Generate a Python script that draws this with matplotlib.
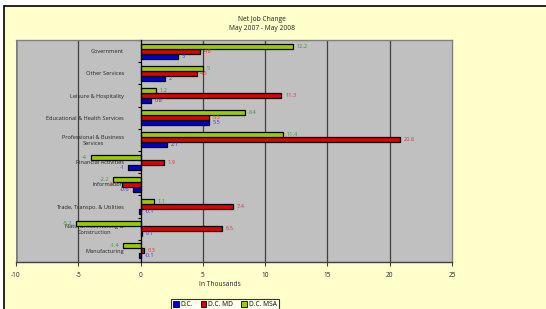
import matplotlib
matplotlib.use("Agg")
import matplotlib.pyplot as plt
from matplotlib.patches import Rectangle, Patch
import numpy as np

categories = ["Government", "Other Services", "Leisure & Hospitality",
              "Educational & Health Services", "Professional & Business\nServices",
              "Financial Activities", "Information", "Trade, Transpo. & Utilities",
              "Natural Res., Mining &\nConstruction", "Manufacturing"]
dc = [3, 2, 0.8, 5.5, 2.1, -1, -0.6, -0.1, 0.1, -0.1]
dc_md = [4.8, 4.5, 11.3, 5.5, 20.8, 1.9, -1.5, 7.4, 6.5, 0.3]
dc_msa = [12.2, 5, 1.2, 8.4, 11.4, -4, -2.2, 1.1, -5.2, -1.4]
series_names = ["D.C.", "D.C. MD", "D.C. MSA"]
xticks = [-10, -5, 0, 5, 10, 15, 20, 25]

plt.rcParams['font.family'] = ['Open Sans', 'DejaVu Sans']

W, H = 546, 309
fig = plt.figure(figsize=(W/100, H/100), dpi=100)
fig.patch.set_facecolor('white')
bg = Rectangle((4/W, -0.1), 1.2, (H-6)/H + 0.1, transform=fig.transFigure,
               facecolor='#FFFFCC', edgecolor='black', lw=1.2, zorder=-5)
fig.patches.append(bg)

ax = fig.add_axes([16/W, 1-262/H, (452-16)/W, (262-40)/H])
ax.set_zorder(1)
ax.set_facecolor('#C0C0C0')

n = len(categories)
y = np.arange(n)
bh = 0.225
bar_colors = ['#0000CC', '#DD0000', '#99CC00']
lab_colors = ['#3333DD', '#E03333', '#339933']
data = [dc, dc_md, dc_msa]
offsets = [bh, 0, -bh]
for vals, off, c, lc in zip(data, offsets, bar_colors, lab_colors):
    ax.barh(y + off, vals, height=bh, color=c, edgecolor='black', lw=0.9, zorder=3)
    for yi, v in zip(y, vals):
        if v >= 0 or v > -0.5:
            ax.text(max(v, 0) + 0.3, yi + off, f"{v:g}", color=lc, fontsize=4.1,
                    va='center', ha='left', zorder=5)
        else:
            ax.text(v - 0.3, yi + off, f"{v:g}", color=lc, fontsize=4.1,
                    va='center', ha='right', zorder=5)

ax.set_xlim(-10, 25)
ax.set_ylim(n - 0.5, -0.5)
ax.set_xticks(xticks)
ax.set_xticklabels([str(t) for t in xticks], fontsize=4.7, color='#222222')
for xv in xticks[1:-1]:
    if xv != 0:
        ax.axvline(xv, color='#404040', lw=0.9, zorder=1)

ax.spines['left'].set_position(('data', 0))
ax.spines['left'].set_color('black')
ax.spines['left'].set_linewidth(0.9)
ax.spines['left'].set_zorder(4)
for s in ['top', 'right']:
    ax.spines[s].set_color('#808080')
    ax.spines[s].set_linewidth(1.0)
ax.spines['bottom'].set_color('#404040')
ax.spines['bottom'].set_linewidth(1.0)
ax.axvline(-10, color='#808080', lw=2.0, zorder=2)

ax.set_yticks(y)
ax.set_yticklabels(categories, fontsize=4.1, multialignment='center', color='#222222')
ax.tick_params(axis='y', length=0, pad=12)
ax.set_yticks(np.arange(-0.5, n, 1), minor=True)
ax.tick_params(axis='y', which='minor', length=2.5, width=0.8, color='black', direction='out')
ax.tick_params(axis='x', length=3, width=0.8, color='#404040', pad=4)
for lab in ax.get_yticklabels():
    lab.set_zorder(6)

fig.text(262/W, 1-24/H, "Net Job Change\nMay 2007 - May 2008", ha='center', va='center',
         fontsize=4.8, linespacing=1.4, color='#222222')
fig.text(220/W, 1-284/H, "In Thousands", ha='center', va='center', fontsize=4.8,
         color='#222222')

handles = [Patch(facecolor=c, edgecolor='black', lw=0.6) for c in bar_colors]
leg = fig.legend(handles, series_names, loc='upper center', bbox_to_anchor=(225/W, 1-299/H),
                 ncol=3, fontsize=4.8, frameon=True, fancybox=False, edgecolor='black',
                 handlelength=0.8, handleheight=0.8, handletextpad=0.3, columnspacing=1.2,
                 borderpad=0.35, borderaxespad=0)
leg.get_frame().set_linewidth(0.8)
leg.get_frame().set_facecolor('white')

fig.savefig("out.png", dpi=100, facecolor=fig.get_facecolor())
